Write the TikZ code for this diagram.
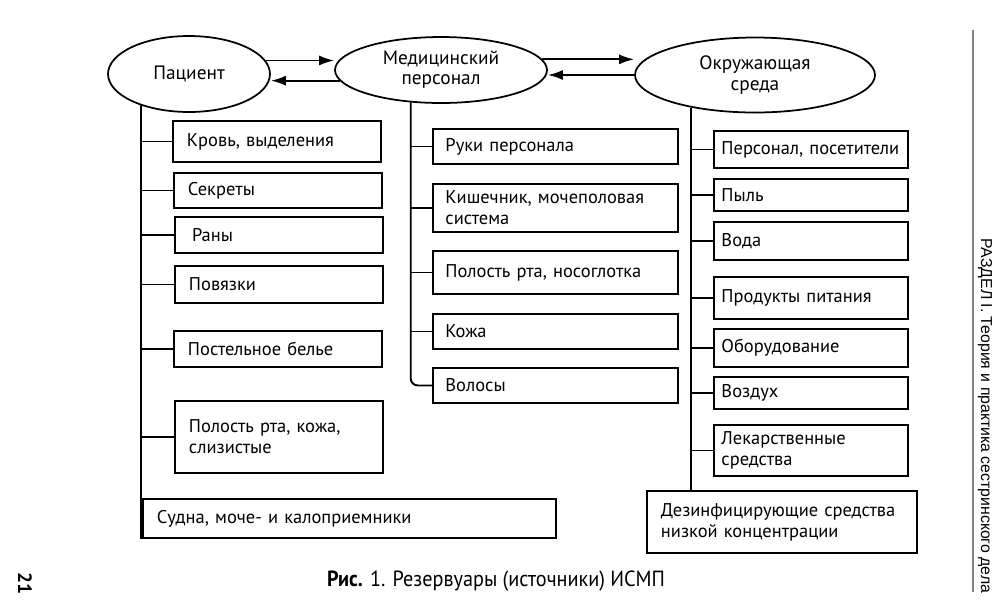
\documentclass[tikz,border=0pt]{standalone}
\usepackage{fontspec}
\setmainfont{PT Sans}
\newfontfamily\sidefont{Liberation Sans}
\newfontfamily\capfont[FakeStretch=0.92]{PT Sans}
\usetikzlibrary{arrows.meta, shapes.geometric, calc}
\tikzset{
  src/.style  = {ellipse, draw, line width=1pt, align=center, inner sep=0pt,
                 font=\fontsize{11}{11.5}\selectfont},
  ibox/.style = {draw, line width=1.1pt, anchor=north west, align=left,
                 inner xsep=0.28cm, inner ysep=0pt, font=\fontsize{10.5}{12}\selectfont},
  pbox/.style = {ibox, text width=3.6cm},
  mbox/.style = {ibox, inner xsep=0.25cm, text width=4.4cm},
  ebox/.style = {ibox, inner xsep=0.15cm, text width=3.58cm},
  link/.style = {line width=1.1pt},
  arr/.style  = {-{Latex[length=3mm, width=2mm]}, line width=1.1pt},
}

\begin{document}
\begin{tikzpicture}[x=0.02cm, y=-0.02cm]
\useasboundingbox (0,0) rectangle (1000,610);

% sources
\node[src, minimum width=3.24cm, minimum height=1.52cm] (pac) at (189,74) {Пациент};
\node[src, minimum width=4.24cm, minimum height=1.32cm] (med) at (441,70) {Медицинский\\персонал};
\node[src, minimum width=4.8cm, minimum height=1.5cm] (okr) at (755,75) {Окружающая\\среда};

\draw[arr] (pac.10) -- (pac.10 -| med.west);
\draw[arr] (med.186) -- (med.186 -| pac.east);
\draw[arr] (med.6) -- (med.6 -| okr.west);
\draw[arr] (okr.west) -- (okr.west -| med.east);

% patient
\node[pbox, minimum height=0.82cm] (kro) at (172,120) {Кровь, выделения};
\node[pbox, minimum height=0.70cm] (sek) at (173,172) {Секреты};
\node[pbox, minimum height=0.72cm] (ran) at (174,216) {\,Раны};
\node[pbox, minimum height=0.74cm] (pov) at (174,265) {Повязки};
\node[pbox, minimum height=0.72cm] (pos) at (173,330) {Постельное белье};
\node[pbox, minimum height=1.44cm] (pol) at (174,400) {Полость рта, кожа,\\слизистые};
\node[ibox, text width=7.7cm, minimum height=0.78cm] (sud) at (142,498) {Судна, моче- и калоприемники};

\draw[link] (pac.213) -- (pac.213 |- sud.south);
\draw[link] (kro.west) -- (kro.west -| pac.213);
\draw[link] (sek.west) -- (sek.west -| pac.213);
\draw[link] (ran.west) -- (ran.west -| pac.213);
\draw[link] (pov.west) -- (pov.west -| pac.213);
\draw[link] (pos.west) -- (pos.west -| pac.213);
\draw[link] (pol.west) -- (pol.west -| pac.213);

% staff
\node[mbox, minimum height=0.70cm] (ruk) at (432,128) {Руки персонала};
\node[mbox, minimum height=0.96cm] (kis) at (432,183) {Кишечник, мочеполовая\\система};
\node[mbox, minimum height=0.86cm] (prt) at (432,250) {Полость рта, носоглотка};
\node[mbox, minimum height=0.70cm] (koz) at (432,313) {Кожа};
\node[mbox, minimum height=0.70cm] (vol) at (432,367) {Волосы};

\draw[link, rounded corners=4pt] (med.227.5) |- (vol.west);
\draw[link] (ruk.west) -- (ruk.west -| med.227.5);
\draw[link] (kis.west) -- (kis.west -| med.227.5);
\draw[link] (prt.west) -- (prt.west -| med.227.5);
\draw[link] (koz.west) -- (koz.west -| med.227.5);

% environment
\node[ebox, minimum height=0.74cm] (per) at (713,130) {Персонал, посетители};
\node[ebox, minimum height=0.64cm] (pyl) at (713,178) {Пыль};
\node[ebox, minimum height=0.76cm] (vod) at (713,221) {Вода};
\node[ebox, minimum height=0.84cm] (pro) at (713,276) {Продукты питания};
\node[ebox, minimum height=0.76cm] (obo) at (713,328) {Оборудование};
\node[ebox, minimum height=0.64cm] (voz) at (713,376) {Воздух};
\node[ebox, minimum height=1.02cm] (lek) at (713,424) {Лекарственные\\средства};
\node[ibox, text width=4.84cm, minimum height=1.24cm] (dez) at (646,490) {Дезинфицирующие средства\\низкой концентрации};

\draw[link] (okr.207.4) -- (okr.207.4 |- dez.north);
\draw[link] (per.west) -- (per.west -| okr.207.4);
\draw[link] (pyl.west) -- (pyl.west -| okr.207.4);
\draw[link] (vod.west) -- (vod.west -| okr.207.4);
\draw[link] (pro.west) -- (pro.west -| okr.207.4);
\draw[link] (obo.west) -- (obo.west -| okr.207.4);
\draw[link] (voz.west) -- (voz.west -| okr.207.4);
\draw[link] (lek.west) -- (lek.west -| okr.207.4);

% page furniture
\draw[gray, line width=0.6pt] (973,30) -- (973,592);
\node[rotate=-90, anchor=west, inner sep=0pt, font=\sidefont\fontsize{9}{10}\selectfont]
  (sec) at (985,238) {РАЗДЕЛ I. Теория и практика сестринского дела};
\node[rotate=-90, font=\bfseries\fontsize{11}{12}\selectfont] (pg) at (25,583) {21};
\node[font=\capfont\fontsize{12.5}{14}\selectfont] (cap) at (496,581)
  {\textbf{Рис.} 1. Резервуары (источники) ИСМП};

\end{tikzpicture}
\end{document}
